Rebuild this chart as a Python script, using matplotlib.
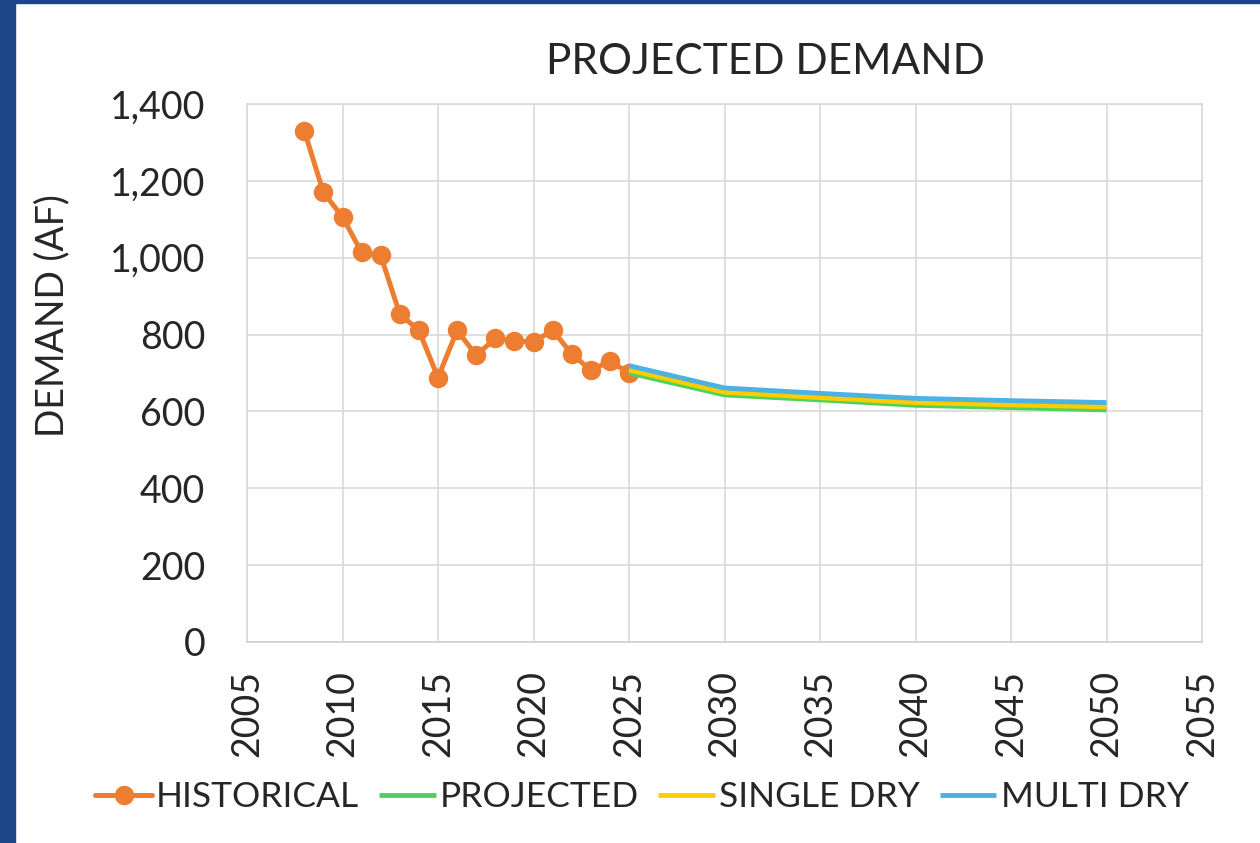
import matplotlib
matplotlib.use("Agg")
import matplotlib.pyplot as plt
from matplotlib.ticker import FuncFormatter, MultipleLocator
import matplotlib.patches as mpatches

# ---- data ----
hist_years = [2008, 2009, 2010, 2011, 2012, 2013, 2014, 2015, 2016,
              2017, 2018, 2019, 2020, 2021, 2022, 2023, 2024, 2025]
hist_vals = [1330, 1170, 1106, 1014, 1006, 853, 811, 688, 811,
             746, 790, 783, 781, 811, 750, 707, 731, 700]

proj_years = [2025, 2030, 2035, 2040, 2045, 2050]
projected = [700, 643, 630, 616, 610, 604]
single_dry = [708, 650, 636, 623, 617, 612]
multi_dry = [719, 661, 647, 634, 628, 623]

labels = ["HISTORICAL", "PROJECTED", "SINGLE DRY", "MULTI DRY"]
title = "PROJECTED DEMAND"
ylabel = "DEMAND (AF)"

# ---- style ----
FONT = "Lato"
TXT = "#262626"
GRID = "#d9d9d9"
C_HIST = "#ED7D31"
C_PROJ = "#4CD35E"
C_SD = "#FFCC00"
C_MD = "#4BB2E3"

plt.rcParams["font.family"] = [FONT, "DejaVu Sans"]

W, H = 1260, 843
fig = plt.figure(figsize=(W / 100, H / 100), dpi=100)
fig.patch.set_facecolor("white")

# blue frame (left and top edges)
fig.add_artist(mpatches.Rectangle((0, 0), 15 / W, 1, transform=fig.transFigure,
                                  color="#1D4589", zorder=10))
fig.add_artist(mpatches.Rectangle((0, 1 - 3 / H), 1, 3 / H, transform=fig.transFigure,
                                  color="#1D4589", zorder=10))

ax = fig.add_axes([247 / W, 1 - 642 / H, (1202 - 247) / W, (642 - 104) / H])

l1, = ax.plot(hist_years, hist_vals, color=C_HIST, lw=3.6, marker="o", ms=13,
              solid_capstyle="round", zorder=3)
l2, = ax.plot(proj_years, projected, color=C_PROJ, lw=3.5, zorder=4,
              solid_capstyle="butt")
l3, = ax.plot(proj_years, single_dry, color=C_SD, lw=3.5, zorder=5,
              solid_capstyle="butt")
l4, = ax.plot(proj_years, multi_dry, color=C_MD, lw=3.5, zorder=6,
              solid_capstyle="butt")

ax.set_xlim(2005, 2055)
ax.set_ylim(0, 1400)
ax.xaxis.set_major_locator(MultipleLocator(5))
ax.yaxis.set_major_locator(MultipleLocator(200))
ax.yaxis.set_major_formatter(FuncFormatter(lambda v, p: f"{int(v):,}"))
ax.grid(True, color=GRID, lw=1.2, zorder=0)
ax.set_axisbelow(True)
for s in ax.spines.values():
    s.set_color(GRID)
    s.set_linewidth(1.2)
ax.spines["bottom"].set_color("#cfcfcf")
ax.tick_params(axis="both", length=0, labelsize=27, colors=TXT)
ax.tick_params(axis="y", pad=30)
ax.tick_params(axis="x", pad=20, labelrotation=90)

ax.set_ylabel(ylabel, fontsize=27, color=TXT)
ax.yaxis.set_label_coords((70 - 247) / (1202 - 247), (642 - 316) / (642 - 104))

fig.text(765 / W, 1 - 62 / H, title, fontsize=30.5, color=TXT,
         ha="center", va="center")

leg = fig.legend([l1, l2, l3, l4], labels, loc="center",
                 bbox_to_anchor=(642 / W, 1 - 797 / H), ncol=4,
                 frameon=False, fontsize=25.5, handlelength=1.6,
                 handletextpad=0.12, columnspacing=0.55, borderpad=0)
for t in leg.get_texts():
    t.set_color(TXT)

fig.savefig("out.png", dpi=100, facecolor="white")
